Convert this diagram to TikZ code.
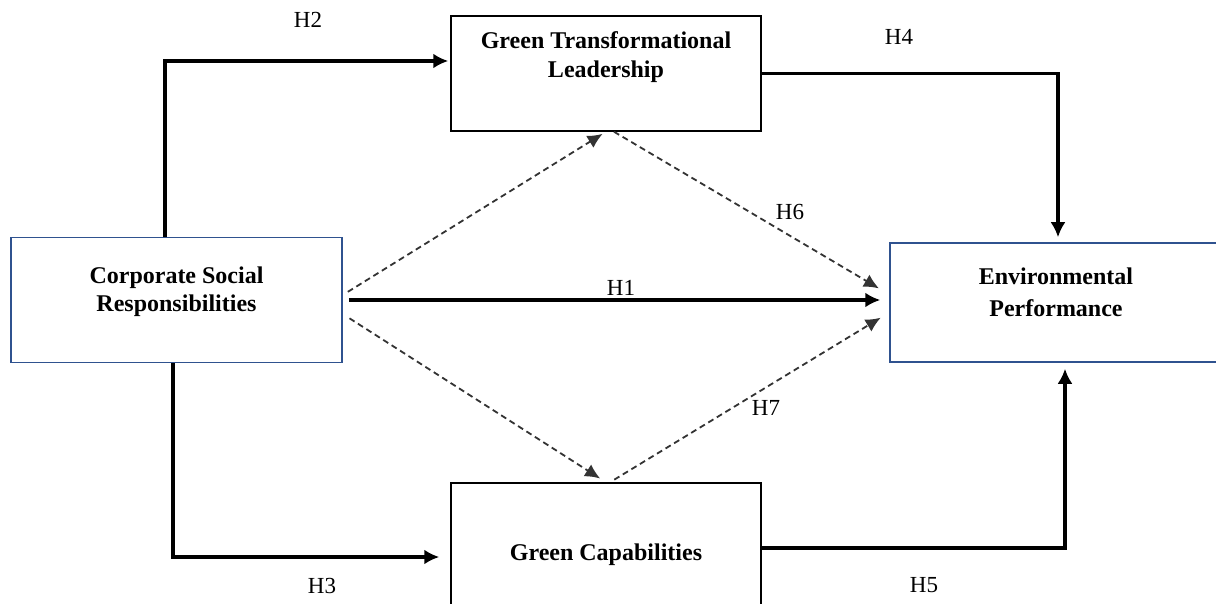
\documentclass[tikz,border=0pt]{standalone}
\usepackage{fontspec}
\setmainfont{Liberation Serif}
\usetikzlibrary{arrows.meta}
\usetikzlibrary{positioning}
\usepackage{xcolor}
\definecolor{boxblue}{HTML}{2F528F}
\tikzstyle{arrow} = [line width=3.4pt,->,>={Latex[length=15pt,width=15pt]}]
\tikzstyle{dasharrow} = [line width=1.8pt,->,>={Latex[length=15pt,width=14pt]},draw=black!80,dash pattern=on 6pt off 4pt]
\tikzstyle{construct} = [rectangle, draw=black, line width=1.5pt, inner sep=0pt]
\tikzstyle{blueconstruct} = [construct, draw=boxblue]
\tikzstyle{constructtext} = [align=center, inner sep=0pt, font=\fontsize{24}{28}\selectfont\bfseries]
\tikzstyle{hyp} = [inner sep=0pt, font=\fontsize{23}{27}\selectfont]

\begin{document}
\begin{tikzpicture}[x=1pt,y=-1pt]
      \useasboundingbox (0,0) rectangle (1216,604);
      \clip (0,0) rectangle (1216,604);

      \node (CSR) [blueconstruct, minimum width=331pt, minimum height=125pt] at (176.5,300) {};
      \node (CSRtext) [constructtext, below=30pt of CSR.north] {Corporate Social\\Responsibilities};
      \node (GTL) [construct, minimum width=310pt, minimum height=115pt] at (606,73.5) {};
      \node (GTLtext) [constructtext, below=16.5pt of GTL.north, font=\fontsize{24}{29}\selectfont\bfseries] {Green Transformational\\Leadership};
      \node (GC) [construct, minimum width=310pt, minimum height=137pt] at (606,551.5) {};
      \node (GCtext) [constructtext, below=61pt of GC.north] {Green Capabilities};
      \node (EP) [blueconstruct, minimum width=332pt, minimum height=119pt] at (1056,302.5) {};
      \node (EPtext) [constructtext, below=25pt of EP.north, font=\fontsize{24}{32}\selectfont\bfseries] {Environmental\\Performance};

      \draw [arrow, shorten >=2pt] ([xshift=-11.5pt]CSR.north) |- ([yshift=12.5pt]GTL.west);
      \draw [arrow, shorten >=5pt] (GTL.east) -| ([xshift=2pt]EP.north);
      \draw [arrow, shorten <=6pt, shorten >=9pt] (CSR.east) -- (CSR.east -| EP.west);
      \draw [arrow, shorten >=11pt] ([xshift=-3.5pt]CSR.south) |- ([yshift=-5.5pt]GC.west);
      \draw [arrow, shorten >=6pt] ([yshift=3.5pt]GC.east) -| ([xshift=9pt]EP.south);

      \draw [dasharrow, shorten <=6pt, shorten >=4pt] ([yshift=5pt]CSR.east) -- (GTL.south);
      \draw [dasharrow, shorten >=12pt] ([xshift=8pt]GTL.south) -- ([yshift=8pt]EP.west);
      \draw [dasharrow, shorten <=8pt, shorten >=7pt] ([yshift=-14pt]CSR.east) -- (GC.north);
      \draw [dasharrow, shorten <=5pt, shorten >=10pt] ([xshift=4pt]GC.north) -- ([yshift=-10pt]EP.west);

      \node (H1) [hyp] at (621,287.5) {H1};
      \node (H2) [hyp] at (308,19.5) {H2};
      \node (H3) [hyp] at (322,586) {H3};
      \node (H4) [hyp] at (899,36.5) {H4};
      \node (H5) [hyp] at (924,585) {H5};
      \node (H6) [hyp] at (790,211.5) {H6};
      \node (H7) [hyp] at (766,408) {H7};
\end{tikzpicture}
\end{document}
